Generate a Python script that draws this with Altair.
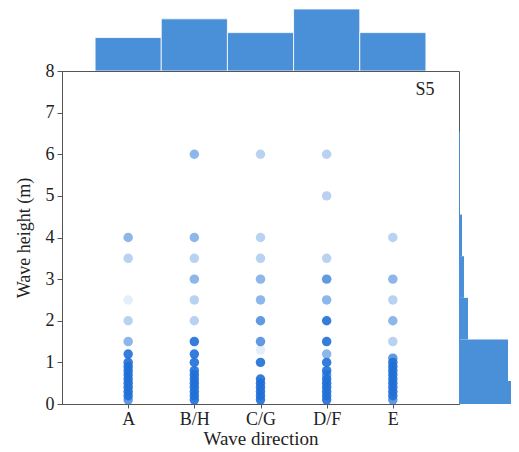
import altair as alt
import pandas as pd

directions = ["A", "B/H", "C/G", "D/F", "E"]

# top marginal histogram: relative frequency per wave direction
dir_counts = [34, 53, 39, 63, 39]

# right marginal histogram: wave height bins
bin_lo = [0.0, 0.55, 1.55, 2.55, 3.55, 4.55, 5.55]
bin_hi = [0.55, 1.55, 2.55, 3.55, 4.55, 5.55, 6.55]
bin_counts = [64, 49, 9, 5, 3, 1, 1]

# scatter: wave heights per direction and how many records fall on each
heights_A = [4.0, 3.5, 2.5, 2.0, 1.5, 1.2, 1.0, 0.9, 0.8, 0.7, 0.6, 0.5, 0.4, 0.3, 0.2, 0.1]
counts_A = [3, 2, 1, 2, 3, 5, 5, 5, 5, 5, 5, 5, 5, 5, 5, 4]

heights_BH = [6.0, 4.0, 3.5, 3.0, 2.5, 2.0, 1.5, 1.2, 1.0, 0.8, 0.7, 0.6, 0.5, 0.4, 0.3, 0.2, 0.1]
counts_BH = [3, 3, 2, 3, 2, 2, 5, 5, 5, 5, 5, 5, 5, 5, 5, 5, 5]

heights_CG = [6.0, 4.0, 3.5, 3.0, 2.5, 2.0, 1.5, 1.3, 1.0, 0.6, 0.5, 0.4, 0.3, 0.2, 0.1]
counts_CG = [2, 2, 2, 3, 3, 4, 4, 1, 5, 5, 5, 5, 5, 5, 5]

heights_DF = [6.0, 5.0, 3.5, 3.0, 2.5, 2.0, 1.5, 1.2, 1.0, 0.8, 0.7, 0.6, 0.5, 0.4, 0.3, 0.2, 0.1]
counts_DF = [2, 2, 2, 4, 3, 5, 5, 3, 5, 5, 4, 5, 5, 5, 5, 5, 5]

heights_E = [4.0, 3.0, 2.5, 2.0, 1.5, 1.1, 1.0, 0.9, 0.8, 0.7, 0.6, 0.5, 0.4, 0.3, 0.2, 0.1]
counts_E = [2, 3, 2, 3, 2, 4, 5, 5, 5, 5, 5, 5, 5, 5, 5, 4]

point_sets = {
    "A": (heights_A, counts_A),
    "B/H": (heights_BH, counts_BH),
    "C/G": (heights_CG, counts_CG),
    "D/F": (heights_DF, counts_DF),
    "E": (heights_E, counts_E),
}

rows = []
for d, (hs, cs) in point_sets.items():
    for h, c in zip(hs, cs):
        rows.append({"direction": d, "height": h, "n": c})
pts = pd.DataFrame(rows)
top_df = pd.DataFrame({"direction": directions, "count": dir_counts})
right_df = pd.DataFrame({"lo": bin_lo, "hi": bin_hi, "count": bin_counts})

FONT = "Liberation Serif"
PCOLOR = "#1f6fd6"
HCOLOR = "#4a90d9"
PW, PH = 397, 333

points = alt.Chart(pts).mark_circle(size=90, color=PCOLOR).encode(
    x=alt.X("direction:N", sort=directions,
            scale=alt.Scale(type="point", padding=1),
            axis=alt.Axis(title="Wave direction", labelAngle=0, tickSize=4,
                          labelPadding=2, titlePadding=1, labelFontSize=18,
                          titleFontSize=19)),
    y=alt.Y("height:Q", scale=alt.Scale(domain=[0, 8], nice=False),
            axis=alt.Axis(title="Wave height (m)", values=list(range(9)),
                          format="d", grid=False, tickSize=5, labelPadding=3,
                          titlePadding=12, labelFontSize=18, titleFontSize=18)),
    opacity=alt.Opacity("n:Q", scale=alt.Scale(domain=[1, 5], range=[0.12, 0.9]),
                        legend=None),
)

label = alt.Chart(pd.DataFrame({"t": ["S5"]})).mark_text(
    font=FONT, fontSize=18, color="#222"
).encode(text="t:N", x=alt.value(363), y=alt.value(19))

main = alt.layer(points, label).properties(
    width=PW, height=PH, view=alt.ViewBackground(stroke="#555", strokeWidth=1)
)

top = alt.Chart(top_df).mark_bar(color=HCOLOR, stroke="white", strokeWidth=0.8).encode(
    x=alt.X("direction:N", sort=directions,
            scale=alt.Scale(type="band", paddingInner=0, paddingOuter=0.5),
            axis=None),
    y=alt.Y("count:Q", scale=alt.Scale(domain=[0, 63], nice=False), axis=None),
).properties(width=PW, height=62)

right = alt.Chart(right_df).mark_bar(color=HCOLOR).encode(
    y=alt.Y("lo:Q", scale=alt.Scale(domain=[0, 8], nice=False), axis=None),
    y2="hi:Q",
    x=alt.X("count:Q", scale=alt.Scale(domain=[0, 52], nice=False, clamp=True),
            axis=None),
    x2=alt.datum(0),
).properties(width=52, height=PH)

row = alt.hconcat(main, right, spacing=0, bounds="flush").resolve_scale(
    x="independent", y="independent")

chart = alt.vconcat(top, row, spacing=0, bounds="flush").resolve_scale(
    x="independent", y="independent"
).properties(
    padding={"left": 6, "top": 0, "right": 0, "bottom": 0}
).configure_view(stroke=None).configure_axis(
    labelFont=FONT, titleFont=FONT, labelColor="#222", titleColor="#222",
    titleFontWeight="normal", domainColor="#555", tickColor="#555"
)

chart.save("out.html", embed_options={"renderer": "svg", "actions": False})
